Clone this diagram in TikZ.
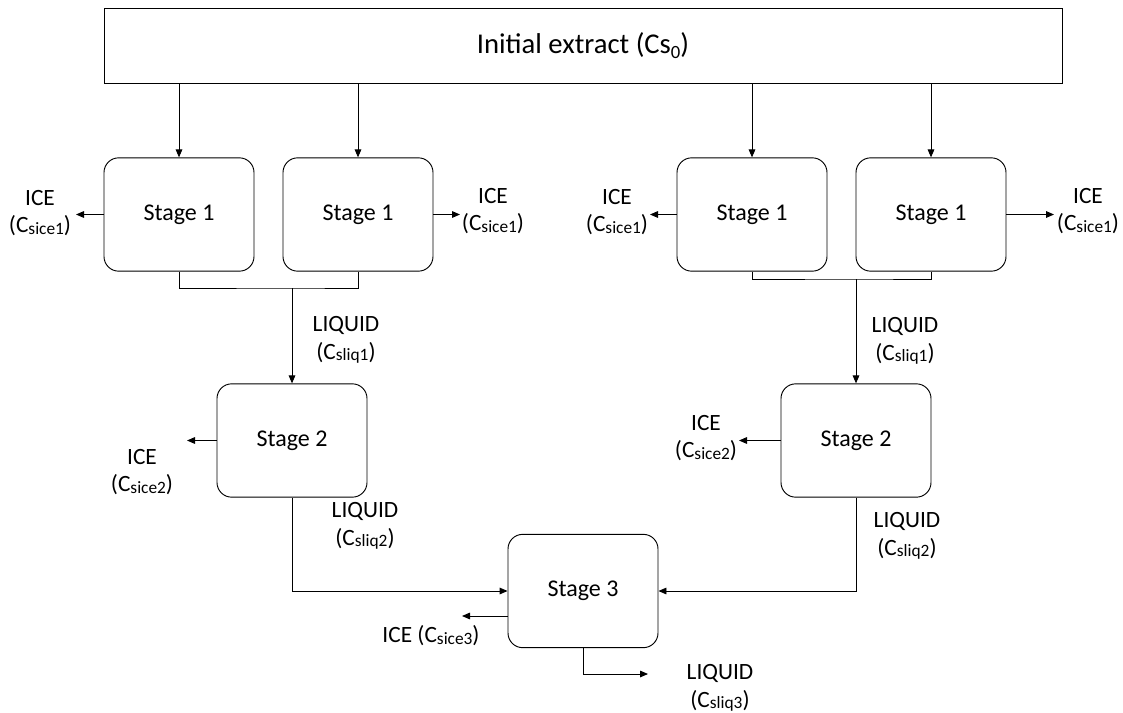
\documentclass[tikz,border=0pt]{standalone}
\usepackage{fontspec}
\setmainfont{Carlito}
\usetikzlibrary{arrows.meta}
% small letters set on the line, as in the figure
\newcommand{\lsub}[2]{\raisebox{-0.15ex}{\fontsize{#1}{#1}\selectfont #2}}
\tikzset{
  stagebox/.style={draw, rounded corners=11pt, minimum width=112.5pt, minimum height=85pt, font=\fontsize{18}{21}\selectfont},
  lbl/.style={align=center, inner sep=0pt, font=\fontsize{17.5}{20.5}\selectfont},
}
\begin{document}
\begin{tikzpicture}[x=0.75pt,y=-0.75pt,line width=0.7pt,>={Triangle[length=6pt,width=5pt]}]
    \useasboundingbox (0,0) rectangle (1123,713);
    % Initial extract
    \node[draw, minimum width=718.5pt, minimum height=56.25pt, font=\fontsize{21.5}{25}\selectfont] (extract) at (583,45.5) {Initial extract (Cs\raisebox{-0.35ex}{\fontsize{14}{14}\selectfont 0})};

    % Stage boxes
    \node[stagebox] (s1a) at (179,214.5) {Stage 1};
    \node[stagebox] (s1b) at (358,214.5) {Stage 1};
    \node[stagebox] (s1c) at (752,214.5) {Stage 1};
    \node[stagebox] (s1d) at (931,214.5) {Stage 1};
    \node[stagebox] (s2a) at (292,440.5) {Stage 2};
    \node[stagebox] (s2b) at (856,440.5) {Stage 2};
    \node[stagebox] (s3) at (583,591) {Stage 3};

    % Labels
    \node[lbl] (ice1a) at (40,213) {ICE\\(C\lsub{13}{sice1})};
    \node[lbl] (ice1b) at (493,211) {ICE\\(C\lsub{13}{sice1})};
    \node[lbl] (ice1c) at (617,212) {ICE\\(C\lsub{13}{sice1})};
    \node[lbl] (ice1d) at (1088,211) {ICE\\(C\lsub{13}{sice1})};
    \node[lbl] (liq1a) at (346,340) {LIQUID\\(C\lsub{13}{sliq1})};
    \node[lbl] (liq1b) at (905,341) {LIQUID\\(C\lsub{13}{sliq1})};
    \node[lbl] (ice2a) at (142,472) {ICE\\(C\lsub{13}{sice2})};
    \node[lbl] (ice2b) at (706,438) {ICE\\(C\lsub{13}{sice2})};
    \node[lbl] (liq2a) at (365,526) {LIQUID\\(C\lsub{13}{sliq2})};
    \node[lbl] (liq2b) at (907,536) {LIQUID\\(C\lsub{13}{sliq2})};
    \node[lbl] (ice3) at (431,636) {ICE (C\lsub{13}{sice3})};
    \node[lbl] (liq3) at (720,688) {LIQUID\\(C\lsub{13}{sliq3})};

    % Free ends of the outlet arrows
    \coordinate (tip1a) at (76,214.5);
    \coordinate (tip1b) at (460,214.5);
    \coordinate (tip1c) at (650,214.5);
    \coordinate (tip1d) at (1054,214.5);
    \coordinate (tip2a) at (187,440.5);
    \coordinate (tip2b) at (739,440.5);
    \coordinate (tip3i) at (462,616);
    \coordinate (tip3l) at (648,674);
    \coordinate (joinl) at (292,288);
    \coordinate (joinr) at (856,279);

    % Feed to stage 1
    \foreach \s in {s1a,s1b,s1c,s1d}
    \draw[->] (extract.south -| \s.north) -- (\s.north);

    % Ice out
    \draw[->] (s1a.west) -- (tip1a);
    \draw[->] (s1b.east) -- (tip1b);
    \draw[->] (s1c.west) -- (tip1c);
    \draw[->] (s1d.east) -- (tip1d);
    \draw[->] (s2a.west) -- (tip2a);
    \draw[->] (s2b.west) -- (tip2b);
    \draw[->] (s3.west |- tip3i) -- (tip3i);

    % Liquid on
    \draw (s1a.south) |- (joinl) -| (s1b.south);
    \draw[->] (joinl) -- (s2a.north);
    \draw (s1c.south) |- (joinr) -| (s1d.south);
    \draw[->] (joinr) -- (s2b.north);
    \draw[->] (s2a.south) |- (s3.west);
    \draw[->] (s2b.south) |- (s3.east);
    \draw[->] (s3.south) |- (tip3l);
\end{tikzpicture}
\end{document}
